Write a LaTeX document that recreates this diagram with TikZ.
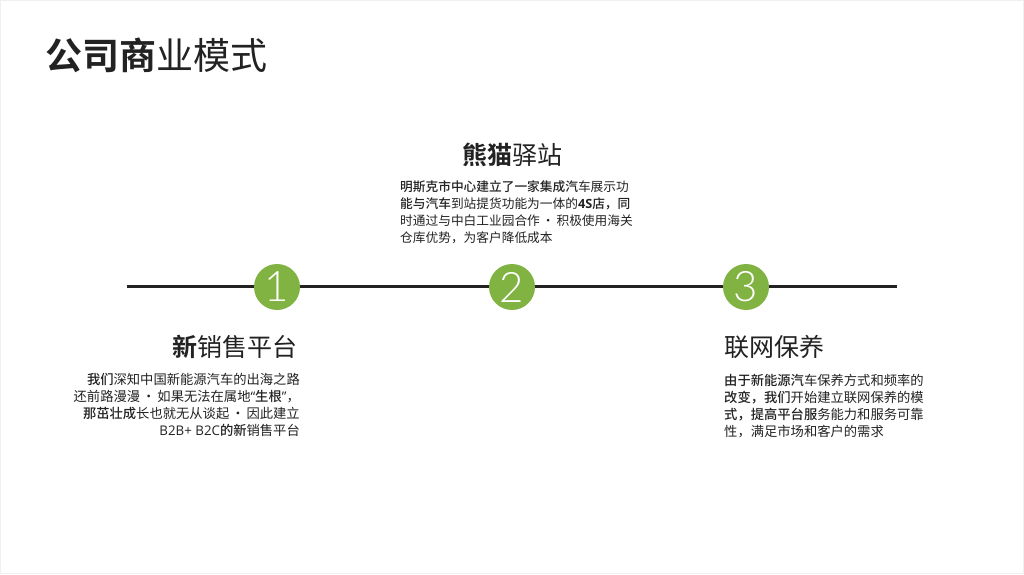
\documentclass[tikz,border=0pt]{standalone}
\usepackage{fontspec}
\usepackage{xcolor}
\usetikzlibrary{positioning}
\newfontfamily\cjk{Noto Sans CJK SC}[BoldFont={Noto Sans CJK SC Medium}]
\newfontfamily\cjkheavy{Noto Sans CJK SC Bold}
\newfontfamily\latin{Open Sans}
\newfontfamily\numfont{Lato Light}
\definecolor{stepgreen}{HTML}{80B342}
\definecolor{inkdark}{HTML}{222222}
\newcommand{\middot}{\hspace{2pt}·\hspace{2pt}}

\begin{document}
\begin{tikzpicture}[x=1pt, y=1pt, inkdark,
    heading/.style={inner sep=0, font=\cjk\fontsize{25}{30}\selectfont},
    bodytext/.style={inner sep=0, font=\cjk\fontsize{13.3}{17}\selectfont},
    stepdot/.style={circle, fill=stepgreen, minimum size=46pt, inner sep=0,
        font=\numfont\fontsize{42}{42}\selectfont, text=white}]

    % Frame
    \useasboundingbox (0,0) rectangle (1024,574);
    \draw[black!6, line width=1pt] (0.5,0.5) rectangle (1023.5,573.5);

    % Title
    \node (title) [inner sep=0, anchor=west, font=\cjk\fontsize{37}{40}\selectfont]
        at (45,519) {{\cjkheavy 公司商}业模式};

    % Timeline
    \coordinate (lstart) at (127,288);
    \coordinate (lend) at (897,288);
    \draw[line width=3pt, inkdark] (lstart) -- (lend);
    \node (s1) [stepdot] at (277,287) {\raisebox{-6pt}{1}};
    \node (s2) [stepdot] at (512,287) {\raisebox{-6pt}{2}};
    \node (s3) [stepdot] at (746,287) {\raisebox{-6pt}{3}};

    % Step 2
    \node (h2) [heading] at (512,419) {{\cjkheavy 熊猫}驿站};
    \node (b2) [bodytext, anchor=north west, align=left,
        font=\cjk\fontsize{12.7}{17}\selectfont] at (400,394)
        {\textbf{明斯克市中心建立了一家集成汽}车展示功\\
         \textbf{能与汽车}到站提货功能为一体的\textbf{{\latin 4S}店，同}\\
         时通过与中白工业园合作\middot 积极使用海关\\
         仓库优势，为客户降低成本};

    % Step 1
    \node (h1) [heading, anchor=east] at (298,227) {{\cjkheavy 新}销售平台};
    \node (b1) [bodytext, anchor=north east, align=right] at (300,201)
        {\textbf{我们}深知中国新能源汽车的出海之路\\
         还前路漫漫\middot 如果无法在属地{\latin “}\textbf{生根}{\latin ”}，\\
         \textbf{那茁壮成}长也就无从谈起\middot 因此建立\\
         {\latin B2B+ B2C}\textbf{的新}销售平台};

    % Step 3
    \node (h3) [heading, anchor=west] at (724,227) {联网保养};
    \node (b3) [bodytext, anchor=north west, align=left] at (724,200)
        {\textbf{由于新能源汽}车保养方式和频率的\\
         \textbf{改变，我们}开始建立联网保养的模\\
         \textbf{式，提高平台服}务能力和服务可靠\\
         性，满足市场和客户的需求};
\end{tikzpicture}
\end{document}
